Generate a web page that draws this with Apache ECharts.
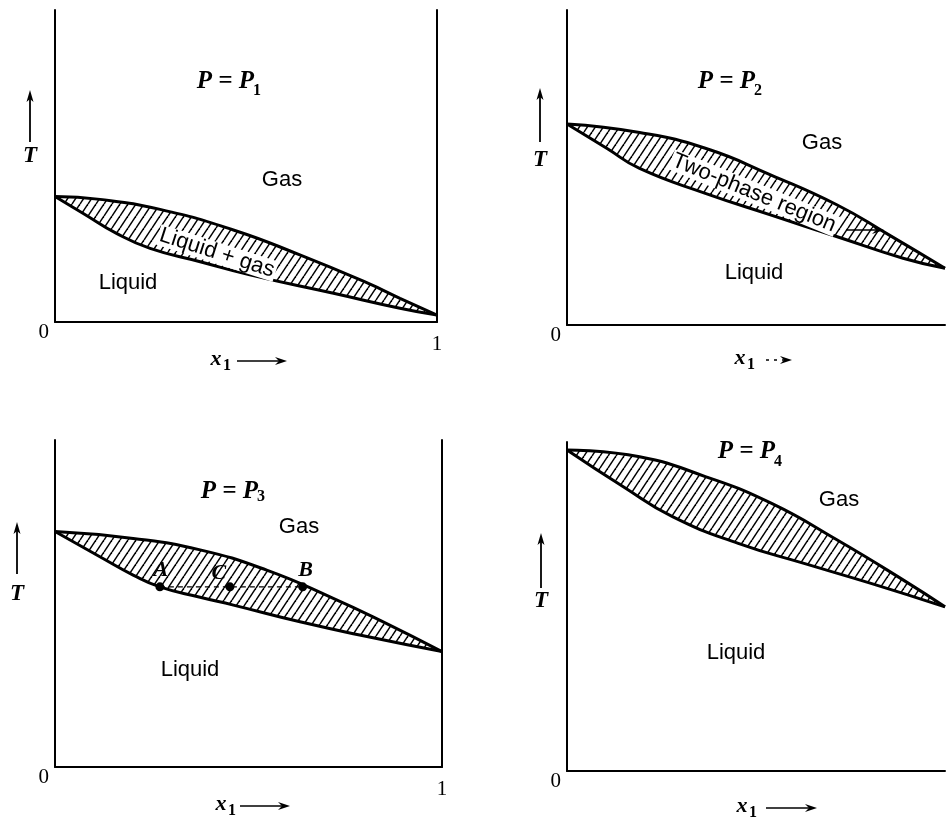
<!DOCTYPE html>
<html>
<head>
<meta charset="utf-8">
<script src="https://cdn.jsdelivr.net/npm/echarts@6/dist/echarts.min.js"></script>
<style>
  html, body { margin: 0; padding: 0; background: #fff; }
  #chart { width: 948px; height: 817px; }
</style>
</head>
<body>
<div id="chart"></div>
<script>
// Boiling diagrams T vs x1 at four pressures: gas (dew) and liquid (bubble) curves
const p1Gas    = [[0, 0.402], [0.118, 0.393], [0.275, 0.361], [0.467, 0.295], [0.641, 0.215], [0.816, 0.126], [0.903, 0.076], [1, 0.022]];
const p1Liquid = [[0, 0.402], [0.074, 0.348], [0.161, 0.284], [0.249, 0.236], [0.380, 0.193], [0.510, 0.151], [0.729, 0.092], [0.903, 0.044], [1, 0.022]];

const p2Gas    = [[0, 0.638], [0.192, 0.611], [0.366, 0.561], [0.540, 0.476], [0.715, 0.381], [0.845, 0.291], [1, 0.180]];
const p2Liquid = [[0, 0.638], [0.105, 0.561], [0.192, 0.497], [0.366, 0.418], [0.540, 0.349], [0.715, 0.280], [0.889, 0.212], [1, 0.180]];

const p3Gas    = [[0, 0.720], [0.202, 0.699], [0.375, 0.664], [0.547, 0.602], [0.719, 0.516], [0.848, 0.444], [1, 0.353]];
const p3Liquid = [[0, 0.720], [0.116, 0.643], [0.202, 0.587], [0.271, 0.551], [0.375, 0.519], [0.461, 0.495], [0.633, 0.444], [0.806, 0.399], [1, 0.353]];

const p4Gas    = [[0, 0.976], [0.192, 0.955], [0.366, 0.895], [0.540, 0.814], [0.715, 0.702], [0.889, 0.581], [1, 0.499]];
const p4Liquid = [[0, 0.976], [0.149, 0.864], [0.279, 0.773], [0.453, 0.692], [0.627, 0.631], [0.802, 0.571], [1, 0.499]];

// Tie line at P3: A on the liquid curve, B on the gas curve, C the overall composition
const tiePointNames = ['A', 'C', 'B'];
const tiePoints     = [[0.271, 0.551], [0.452, 0.551], [0.640, 0.551]];

const pressureSubscripts = ['1', '2', '3', '4'];
const xTickLabels = [['', '1'], ['', ''], ['', '1'], ['', '']];   // at x1 = 0 and x1 = 1
const yTickLabels = ['0', ''];                                     // at T = 0 and top

const panels = [
  { gas: p1Gas, liquid: p1Liquid },
  { gas: p2Gas, liquid: p2Liquid },
  { gas: p3Gas, liquid: p3Liquid },
  { gas: p4Gas, liquid: p4Liquid }
];

// Diagonal hatch tile for the two-phase region
function makeHatch() {
  const w = 8, h = 12;
  const c = document.createElement('canvas');
  c.width = w; c.height = h;
  const g = c.getContext('2d');
  g.fillStyle = '#fff';
  g.fillRect(0, 0, w, h);
  g.strokeStyle = '#000';
  g.lineWidth = 1.5;
  [-w, 0, w].forEach(dx => {
    g.beginPath();
    g.moveTo(dx, h);
    g.lineTo(dx + w, 0);
    g.stroke();
  });
  return c;
}
const hatch = { image: makeHatch(), repeat: 'repeat' };

const SERIF = '"Liberation Serif", "DejaVu Serif", serif';
const SANS = '"Liberation Sans", Arial, sans-serif';

const grids = [
  { left: 55,  top: 10,  width: 382, height: 312 },
  { left: 567, top: 10,  width: 383, height: 315 },
  { left: 55,  top: 440, width: 387, height: 327 },
  { left: 567, top: 442, width: 383, height: 329 }
];

const axisLine = { show: true, onZero: false, lineStyle: { color: '#000', width: 2 } };

const xAxes = grids.map((g, i) => ({
  gridIndex: i, type: 'value', min: 0, max: 1, interval: 1, z: 4,
  axisLine: axisLine, axisTick: { show: false }, splitLine: { show: false },
  axisLabel: {
    margin: 12, color: '#000', fontFamily: SERIF, fontSize: 21,
    showMinLabel: true, showMaxLabel: true,
    formatter: v => xTickLabels[i][v === 1 ? 1 : 0]
  }
}));

const yAxes = grids.map((g, i) => ({
  gridIndex: i, type: 'value', min: 0, max: 1, interval: 1, z: 4,
  axisLine: axisLine, axisTick: { show: false }, splitLine: { show: false },
  axisLabel: {
    margin: 6, color: '#000', fontFamily: SERIF, fontSize: 21, verticalAlign: 'top',
    showMinLabel: true, showMaxLabel: true,
    formatter: v => yTickLabels[v === 0 ? 0 : 1]
  }
}));
// Right-hand frame lines for the first and third panels
[0, 2].forEach(i => yAxes.push({
  gridIndex: i, type: 'value', position: 'right', min: 0, max: 1, z: 4,
  axisLine: axisLine, axisTick: { show: false }, axisLabel: { show: false }, splitLine: { show: false }
}));

const series = [];
panels.forEach((p, i) => {
  const base = { type: 'line', xAxisIndex: i, yAxisIndex: i, smooth: 0.5, symbol: 'none', silent: true, animation: false };
  series.push(Object.assign({}, base, { data: p.gas, z: 1, lineStyle: { width: 0 }, areaStyle: { color: hatch, opacity: 1, origin: 'start' } }));
  series.push(Object.assign({}, base, { data: p.liquid, z: 2, lineStyle: { width: 0 }, areaStyle: { color: '#fff', opacity: 1, origin: 'start' } }));
  series.push(Object.assign({}, base, { data: p.gas, z: 3, lineStyle: { color: '#000', width: 3 } }));
  series.push(Object.assign({}, base, { data: p.liquid, z: 3, lineStyle: { color: '#000', width: 3 } }));
});

// Dashed tie line A–B and the three marked states
series.push({
  type: 'line', xAxisIndex: 2, yAxisIndex: 2, z: 5, symbol: 'none', silent: true, animation: false,
  data: [tiePoints[0], tiePoints[2]],
  lineStyle: { color: '#000', width: 1.2, type: [5, 4] }
});
const labelOffsets = { A: [1, 4], C: [-11, 7], B: [3, 4] };
series.push({
  type: 'scatter', xAxisIndex: 2, yAxisIndex: 2, z: 6, symbolSize: 9, silent: true, animation: false,
  itemStyle: { color: '#000', opacity: 1 },
  label: {
    show: true, position: 'top', color: '#000', opacity: 1, textBorderWidth: 0,
    fontFamily: SERIF, fontStyle: 'italic', fontWeight: 'bold', fontSize: 22
  },
  data: tiePoints.map((pt, k) => ({
    value: pt,
    label: { formatter: tiePointNames[k], offset: labelOffsets[tiePointNames[k]] }
  }))
});

// Annotation text helpers
function txt(x, y, text, font, extra) {
  const el = {
    type: 'text', x: x, y: y, z: 100, silent: true,
    style: Object.assign({ text: text, font: font, fill: '#000', align: 'center', verticalAlign: 'middle' }, (extra && extra.style) || {})
  };
  if (extra && extra.rotation !== undefined) el.rotation = extra.rotation;
  return el;
}
function upArrow(x, y1, y2) {
  return [
    { type: 'line', z: 100, silent: true, shape: { x1: x, y1: y1 + 6, x2: x, y2: y2 }, style: { stroke: '#000', lineWidth: 1.8 } },
    { type: 'polygon', z: 100, silent: true, shape: { points: [[x, y1], [x - 3.5, y1 + 12], [x, y1 + 9], [x + 3.5, y1 + 12]] }, style: { fill: '#000' } }
  ];
}
function rightArrow(x1, x2, y, dash) {
  return [
    { type: 'line', z: 100, silent: true, shape: { x1: x1, y1: y, x2: x2 - 5, y2: y }, style: { stroke: '#000', lineWidth: 1.4, lineDash: dash || null } },
    { type: 'polygon', z: 100, silent: true, shape: { points: [[x2, y], [x2 - 12, y - 4], [x2 - 8, y], [x2 - 12, y + 4]] }, style: { fill: '#000' } }
  ];
}

const fP = 'italic bold 25px ' + SERIF;
const fSub = 'bold 16px ' + SERIF;
const fSans = '22px ' + SANS;
const fT = 'italic bold 23px ' + SERIF;
const fX = 'italic bold 22px ' + SERIF;

const pressureSpots = [[254, 82, 253, 91], [755, 82, 754, 91], [258, 492, 257, 497], [775, 452, 774, 462]];
const gasSpots = [[282, 180], [822, 143], [299, 527], [839, 500]];
const liquidSpots = [[128, 283], [754, 273], [190, 670], [736, 653]];
const tArrowSpots = [[30, 90, 142, 156], [540, 88, 142, 160], [17, 522, 574, 594], [541, 533, 588, 601]];
const xLabelSpots = [[216, 359, 237, 287], [740, 358, 766, 792], [221, 804, 240, 290], [742, 806, 766, 817]];

const elements = [];
pressureSpots.forEach((s, i) => {
  elements.push(txt(s[0], s[1], 'P = P', fP, { style: { align: 'right' } }));
  elements.push(txt(s[2], s[3], pressureSubscripts[i], fSub, { style: { align: 'left' } }));
});
gasSpots.forEach(s => elements.push(txt(s[0], s[1], 'Gas', fSans)));
liquidSpots.forEach(s => elements.push(txt(s[0], s[1], 'Liquid', fSans)));
tArrowSpots.forEach(s => {
  upArrow(s[0], s[1], s[2]).forEach(e => elements.push(e));
  elements.push(txt(s[0], s[3], 'T', fT));
});
xLabelSpots.forEach((s, i) => {
  elements.push(txt(s[0], s[1], 'x', fX));
  elements.push(txt(s[0] + 7, s[1] + 7, '1', fSub, { style: { align: 'left' } }));
  rightArrow(s[2], s[3], s[1] + 2, i === 1 ? [3, 5] : null).forEach(e => elements.push(e));
});
// Region labels set along the lens
elements.push(txt(217, 253, 'Liquid + gas', fSans, { rotation: -0.31, style: { backgroundColor: '#fff', padding: [0, 2, -1, 2] } }));
elements.push(txt(754, 193, 'Two-phase region', fSans, { rotation: -0.39, style: { backgroundColor: '#fff', padding: [0, 2, -1, 2] } }));
rightArrow(846, 884, 230).forEach(e => elements.push(e));

const chart = echarts.init(document.getElementById('chart'), null, { renderer: 'canvas' });
chart.setOption({
  animation: false,
  backgroundColor: '#fff',
  grid: grids,
  xAxis: xAxes,
  yAxis: yAxes,
  series: series,
  graphic: { elements: elements }
});
</script>
</body>
</html>
